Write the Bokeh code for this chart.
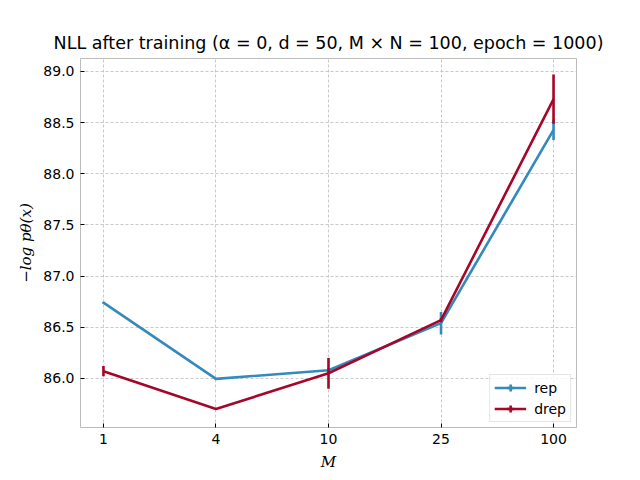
from bokeh.plotting import figure
from bokeh.models import Range1d, FixedTicker, Legend, LegendItem, ColumnDataSource
from bokeh.embed import file_html
from bokeh.resources import INLINE

m_labels = ["1", "4", "10", "25", "100"]
rep_mean = [86.74, 85.995, 86.08, 86.54, 88.43]
rep_err = [0.01, 0.01, 0.02, 0.11, 0.10]
drep_mean = [86.07, 85.70, 86.05, 86.57, 88.73]
drep_err = [0.05, 0.01, 0.15, 0.02, 0.24]

BLUE = "#348ABD"
RED = "#A60628"
FONT = "DejaVu Sans"
LW = 2.6

xs = list(range(len(m_labels)))

p = figure(width=640, height=480, output_backend="svg", toolbar_location=None,
           x_range=Range1d(-0.204, 4.204), y_range=Range1d(85.52, 89.127),
           min_border_left=80, min_border_right=64, min_border_top=58, min_border_bottom=53)
p.background_fill_color = "white"
p.border_fill_color = "white"
p.outline_line_color = "#bcbcbc"
p.outline_line_width = 1

p.title.text = "NLL after training (α = 0, d = 50, M × N = 100, epoch = 1000)"
p.title.text_font = FONT
p.title.text_font_size = "17.5px"
p.title.text_font_style = "normal"
p.title.align = "center"
p.title.text_color = "black"
p.title.standoff = 11

p.xaxis.ticker = FixedTicker(ticks=xs)
p.xaxis.major_label_overrides = {i: lab for i, lab in zip(xs, m_labels)}
yt = [86.0, 86.5, 87.0, 87.5, 88.0, 88.5, 89.0]
p.yaxis.ticker = FixedTicker(ticks=yt)
p.yaxis.major_label_overrides = {v: f"{v:.1f}" for v in yt}

for ax in (p.xaxis[0], p.yaxis[0]):
    ax.axis_line_color = None
    ax.major_tick_in = 4
    ax.major_tick_out = 0
    ax.major_tick_line_color = "black"
    ax.minor_tick_line_color = None
    ax.major_label_text_font = FONT
    ax.major_label_text_font_size = "14px"
    ax.major_label_text_color = "black"
    ax.major_label_standoff = 6
    ax.axis_label_text_font = "DejaVu Serif"
    ax.axis_label_text_font_style = "italic"
    ax.axis_label_text_font_size = "15px"
    ax.axis_label_text_color = "black"

p.xaxis.axis_label = "M"
p.xaxis.axis_label_standoff = 6
p.yaxis.axis_label = "−log pθ(x)"
p.yaxis.axis_label_standoff = 5

for g in (p.xgrid[0], p.ygrid[0]):
    g.grid_line_color = "#b2b2b2"
    g.grid_line_dash = "3 2"
    g.grid_line_width = 0.7

items = []
for name, mean, err, col in [("rep", rep_mean, rep_err, BLUE), ("drep", drep_mean, drep_err, RED)]:
    src = ColumnDataSource(dict(x=xs, y=mean,
                                lo=[m - e for m, e in zip(mean, err)],
                                hi=[m + e for m, e in zip(mean, err)]))
    ln = p.line("x", "y", source=src, line_color=col, line_width=LW)
    sg = p.segment(x0="x", y0="lo", x1="x", y1="hi", source=src, line_color=col, line_width=LW)
    mk = p.scatter("x", "y", source=src, marker="cross", size=0, line_color=col, line_width=LW)
    items.append(LegendItem(label=name, renderers=[ln, mk]))

legend = Legend(items=items, location="bottom_right")
legend.label_text_font = FONT
legend.label_text_font_size = "14px"
legend.label_text_color = "black"
legend.border_line_color = "#cccccc"
legend.border_line_width = 1
legend.background_fill_color = "white"
legend.background_fill_alpha = 0.8
legend.glyph_width = 32
legend.glyph_height = 17
legend.label_height = 17
legend.spacing = 4
legend.padding = 4
legend.margin = 5
legend.label_standoff = 8
p.add_layout(legend)

open("out.html", "w").write(file_html(p, INLINE))
